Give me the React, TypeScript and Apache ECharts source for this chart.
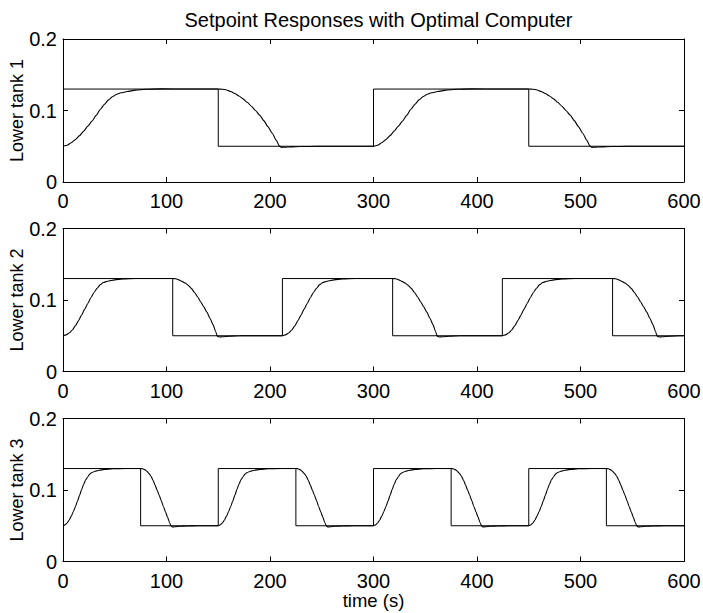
import React, { useEffect, useRef } from "react";
import * as echarts from "echarts";

// ---- data ----
const titleText = "Setpoint Responses with Optimal Computer";
const yNames = ["Lower tank 1", "Lower tank 2", "Lower tank 3"];
const xName = "time (s)";
const xMin = 0;
const xMax = 600;
const xInterval = 100;
const yMin = 0;
const yMax = 0.2;
const yInterval = 0.1;

const spHigh = 0.13;
const spLow = 0.05;

// switch times of the setpoint (first segment is "high")
const p1Switches = [150, 300, 450];
const p2Switches = [106, 212, 318.5, 424.5, 531];
const p3Switches = [75, 150, 225, 300, 375, 450, 525];

// measured output after an up-step (time relative to the step)
const p1RiseT = [0, 4, 8, 12, 16, 20, 24, 28, 32, 36, 40, 44, 48, 52, 56, 62, 70, 80, 95, 120];
const p1RiseV = [0.05, 0.0515, 0.0548, 0.0593, 0.0648, 0.0712, 0.0781, 0.0852, 0.0932, 0.1015, 0.1085, 0.1148, 0.1195, 0.1228, 0.1248, 0.1265, 0.1285, 0.1297, 0.1302, 0.1301];
// measured output after a down-step
const p1FallT = [0, 4, 8, 12, 16, 20, 24, 28, 32, 36, 40, 44, 48, 52, 56, 59, 61, 64, 70, 80, 95, 110];
const p1FallV = [0.13, 0.1298, 0.1287, 0.1265, 0.1237, 0.1203, 0.1162, 0.1115, 0.106, 0.1, 0.0935, 0.0858, 0.0775, 0.0685, 0.0585, 0.0505, 0.0484, 0.0486, 0.0491, 0.0496, 0.0499, 0.05];

const p2RiseT = [0, 3, 6, 9, 12, 15, 18, 21, 24, 27, 30, 33, 36, 39, 43, 50, 58, 70, 85];
const p2RiseV = [0.05, 0.0512, 0.0538, 0.058, 0.064, 0.0712, 0.079, 0.0872, 0.0952, 0.1032, 0.1105, 0.1165, 0.1215, 0.1245, 0.1262, 0.1282, 0.1295, 0.1301, 0.1301];
const p2FallT = [0, 3, 6, 9, 12, 15, 18, 21, 24, 27, 30, 33, 36, 39, 41.5, 43, 45, 48, 55, 65, 80];
const p2FallV = [0.13, 0.1298, 0.1282, 0.126, 0.1238, 0.1205, 0.1162, 0.1108, 0.1045, 0.0975, 0.0905, 0.083, 0.0745, 0.0655, 0.056, 0.0495, 0.0483, 0.0486, 0.0493, 0.0499, 0.05];

const p3RiseT = [0, 2, 4, 6, 8, 10, 12, 14, 16, 18, 20, 22, 24, 26, 28, 31, 35, 40, 48, 60];
const p3RiseV = [0.05, 0.0512, 0.0538, 0.058, 0.0635, 0.0698, 0.0768, 0.0845, 0.0925, 0.1005, 0.108, 0.1145, 0.1185, 0.1225, 0.1245, 0.1262, 0.1276, 0.1288, 0.1297, 0.1301];
const p3FallT = [0, 2, 4, 6, 8, 10, 12, 14, 16, 18, 20, 22, 24, 26, 28, 29.5, 31, 33, 38, 45, 55];
const p3FallV = [0.13, 0.1298, 0.1285, 0.1262, 0.1232, 0.1192, 0.1135, 0.1068, 0.0995, 0.0925, 0.085, 0.077, 0.0695, 0.062, 0.0542, 0.0495, 0.0483, 0.0486, 0.0492, 0.0497, 0.05];

// ---- build series data from the read tables ----
function buildSetpoint(switches: number[]) {
  const pts: number[][] = [];
  let level = spHigh;
  pts.push([xMin, level]);
  for (const s of switches) {
    pts.push([s, level]);
    level = level === spHigh ? spLow : spHigh;
    pts.push([s, level]);
  }
  pts.push([xMax, level]);
  return pts;
}

function buildOutput(switches: number[], rT: number[], rV: number[], fT: number[], fV: number[]) {
  const starts = [xMin, ...switches];
  const pts: number[][] = [];
  starts.forEach((st, k) => {
    const end = k + 1 < starts.length ? starts[k + 1] : xMax;
    const T = k % 2 === 0 ? rT : fT;
    const V = k % 2 === 0 ? rV : fV;
    for (let i = 0; i < T.length; i++) {
      const t = st + T[i];
      if (t < end || (k === starts.length - 1 && t <= end)) pts.push([t, V[i]]);
    }
    if (k === starts.length - 1) {
      const last = pts[pts.length - 1];
      if (last[0] < xMax) pts.push([xMax, last[1]]);
    }
  });
  return pts;
}

const plots = [
  { sw: p1Switches, rT: p1RiseT, rV: p1RiseV, fT: p1FallT, fV: p1FallV },
  { sw: p2Switches, rT: p2RiseT, rV: p2RiseV, fT: p2FallT, fV: p2FallV },
  { sw: p3Switches, rT: p3RiseT, rV: p3RiseV, fT: p3FallT, fV: p3FallV },
];

const gridTops = [39, 228.5, 418.5];
const gridH = 143;
const gridLeft = 63;
const gridW = 621;
const FONT = "'Liberation Sans', Arial, Helvetica, sans-serif";

export default function App() {
  const ref = useRef<HTMLDivElement>(null);
  useEffect(() => {
    if (!ref.current) return;
    const chart = echarts.init(ref.current, undefined, { renderer: "svg" });
    const grid: any[] = [];
    const xAxis: any[] = [];
    const yAxis: any[] = [];
    const series: any[] = [];
    const black = "#000";
    plots.forEach((p, i) => {
      grid.push({
        left: gridLeft,
        top: gridTops[i],
        width: gridW,
        height: gridH,
        containLabel: false,
        outerBoundsMode: "none",
      });
      const common = {
        type: "value",
        min: xMin,
        max: xMax,
        interval: xInterval,
        gridIndex: i,
        splitLine: { show: false },
        axisLine: { show: true, onZero: false, lineStyle: { color: black, width: 1 } },
        axisTick: { show: true, inside: true, length: 5, lineStyle: { color: black, width: 1 } },
      };
      xAxis.push({
        ...common,
        position: "bottom",
        axisLabel: {
          show: true,
          color: black,
          fontSize: 20,
          lineHeight: 16,
          fontFamily: FONT,
          margin: 11,
        },
        name: i === 2 ? xName : "",
        nameLocation: "middle",
        nameGap: 31,
        nameMoveOverlap: false,
        nameTextStyle: { color: black, fontSize: 18.5, lineHeight: 16, fontFamily: FONT },
      });
      xAxis.push({ ...common, position: "top", axisLabel: { show: false } });
      const ycommon = {
        type: "value",
        min: yMin,
        max: yMax,
        interval: yInterval,
        gridIndex: i,
        splitLine: { show: false },
        axisLine: { show: true, onZero: false, lineStyle: { color: black, width: 1 } },
        axisTick: { show: true, inside: true, length: 5, lineStyle: { color: black, width: 1 } },
      };
      yAxis.push({
        ...ycommon,
        position: "left",
        axisLabel: {
          show: true,
          color: black,
          fontSize: 20,
          fontFamily: FONT,
          margin: 6,
          formatter: (v: number) => (Math.round(v * 10) / 10).toString(),
        },
        name: yNames[i],
        nameLocation: "middle",
        nameGap: 37,
        nameMoveOverlap: false,
        nameTextStyle: { color: black, fontSize: 18, fontFamily: FONT },
      });
      yAxis.push({ ...ycommon, position: "right", axisLabel: { show: false } });

      series.push({
        type: "line",
        xAxisIndex: 2 * i,
        yAxisIndex: 2 * i,
        data: buildSetpoint(p.sw),
        showSymbol: false,
        symbol: "none",
        lineStyle: { color: black, width: 1 },
        silent: true,
      });
      series.push({
        type: "line",
        xAxisIndex: 2 * i,
        yAxisIndex: 2 * i,
        data: buildOutput(p.sw, p.rT, p.rV, p.fT, p.fV),
        showSymbol: false,
        symbol: "none",
        smooth: 0.2,
        smoothMonotone: "x",
        lineStyle: { color: black, width: 1.1 },
        silent: true,
      });
    });

    chart.setOption({
      animation: false,
      backgroundColor: "#fff",
      title: {
        text: titleText,
        left: gridLeft + gridW / 2,
        top: 5,
        textAlign: "center",
        textStyle: { color: black, fontSize: 20, fontWeight: "normal", fontFamily: FONT },
      },
      grid,
      xAxis,
      yAxis,
      series,
    });
    return () => chart.dispose();
  }, []);
  return (
    <div
      ref={ref}
      style={{ position: "fixed", left: 0, top: 0, width: 703, height: 613, background: "#fff" }}
    />
  );
}
